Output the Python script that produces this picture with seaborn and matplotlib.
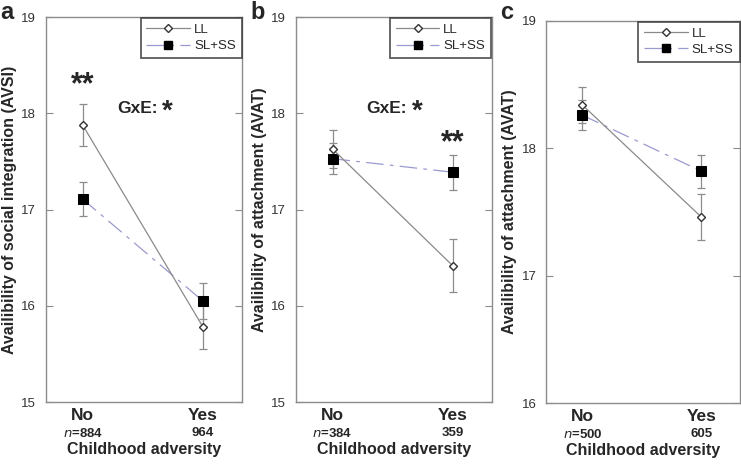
import pandas as pd
import matplotlib.pyplot as plt
import seaborn as sns
from matplotlib.lines import Line2D

# Valores
grupos = ["No", "Yes"]
genotipos = ["LL", "SL+SS"]
n_a = ["884", "964"]
n_b = ["384", "359"]
n_c = ["500", "605"]

media_a_ll = [17.88, 15.78]
media_a_ss = [17.11, 16.05]
erro_a_ll = [0.22, 0.23]
erro_a_ss = [0.18, 0.19]

media_b_ll = [17.63, 16.42]
media_b_ss = [17.53, 17.39]
erro_b_ll = [0.20, 0.28]
erro_b_ss = [0.16, 0.18]

media_c_ll = [18.34, 17.46]
media_c_ss = [18.26, 17.82]
erro_c_ll = [0.14, 0.18]
erro_c_ss = [0.12, 0.13]

sns.set_style("white")
plt.rcParams["font.family"] = ["Liberation Sans", "DejaVu Sans"]

fig = plt.figure(figsize=(7.41, 4.65), dpi=100)

paineis = [
    ("a", [0.062, 0.135, 0.265, 0.828], media_a_ll, media_a_ss, erro_a_ll, erro_a_ss, n_a,
     "Availibility of social integration (AVSI)", (15, 19)),
    ("b", [0.3995, 0.135, 0.264, 0.828], media_b_ll, media_b_ss, erro_b_ll, erro_b_ss, n_b,
     "Availibility of attachment (AVAT)", (15, 19)),
    ("c", [0.737, 0.133, 0.262, 0.822], media_c_ll, media_c_ss, erro_c_ll, erro_c_ss, n_c,
     "Availibility of attachment (AVAT)", (16, 19)),
]

cinza = "#8c8c8c"
azul = "#9a9ad0"
tracos = [14, 5, 3, 5]
eixos = []

for letra, pos, m_ll, m_ss, e_ll, e_ss, ns, ylabel, ylim in paineis:
    ax = fig.add_axes(pos)
    eixos.append(ax)
    df = pd.DataFrame({
        "x": [0, 1, 0, 1],
        "media": m_ll + m_ss,
        "erro": e_ll + e_ss,
        "genotipo": ["LL", "LL", "SL+SS", "SL+SS"],
    })

    # barras de erro
    for g in genotipos:
        sub = df[df["genotipo"] == g]
        ax.errorbar(sub["x"], sub["media"], yerr=sub["erro"], fmt="none",
                    ecolor=cinza, elinewidth=0.9, capsize=3, capthick=0.9, zorder=2)

    # linhas
    sub = df[df["genotipo"] == "LL"]
    sns.lineplot(data=sub, x="x", y="media", ax=ax, color="#8a8a8a", lw=0.9,
                 marker="D", markersize=4.5, markerfacecolor="white",
                 markeredgecolor="#333333", markeredgewidth=1.0, zorder=4)
    sub = df[df["genotipo"] == "SL+SS"]
    sns.lineplot(data=sub, x="x", y="media", ax=ax, color=azul, lw=0.9,
                 marker="s", markersize=6.5, markerfacecolor="black",
                 markeredgecolor="black", zorder=3)
    ax.lines[-1].set_dashes(tracos)

    ax.set_xlim(-0.305, 1.326)
    ax.set_ylim(*ylim)
    ax.set_yticks(range(ylim[0], ylim[1] + 1))
    ax.set_xticks([0, 1])
    ax.set_xticklabels(["", ""])
    ax.tick_params(axis="y", direction="in", length=5, width=0.8, color=cinza,
                   right=True, left=True, labelsize=9.5, labelcolor="#333333", pad=7)
    ax.tick_params(axis="x", length=0)
    for s in ax.spines.values():
        s.set_color(cinza)
        s.set_linewidth(1.0)

    ax.set_ylabel(ylabel, fontsize=11.5, fontweight="bold", labelpad=3)
    ax.set_xlabel("")
    for xi, (grp, n) in enumerate(zip(grupos, ns)):
        ax.text(xi, -0.014, grp, transform=ax.get_xaxis_transform(),
                ha="center", va="top", fontsize=12.5, fontweight="bold")
        rotulo = r"$\mathbf{\it{n}}$=" + n if xi == 0 else n
        ax.text(xi, -0.064, rotulo, transform=ax.get_xaxis_transform(),
                ha="center", va="top", fontsize=9.5, fontweight="bold")
    ax.text(0.5, -0.103, "Childhood adversity", transform=ax.transAxes,
            ha="center", va="top", fontsize=11.5, fontweight="bold")

    handles = [
        Line2D([0], [0], color="#8a8a8a", lw=0.9, marker="D", markersize=4,
               markerfacecolor="white", markeredgecolor="#333333"),
        Line2D([0], [0], color=azul, lw=0.9, dashes=tracos, marker="s",
               markersize=6, markerfacecolor="black", markeredgecolor="black"),
    ]
    leg = ax.legend(handles, genotipos, loc="upper right", fontsize=9.5,
                    frameon=True, fancybox=False, borderaxespad=0.05,
                    handlelength=3.3, handletextpad=0.3, labelspacing=0.3,
                    borderpad=0.45)
    leg.get_frame().set_edgecolor("#333333")
    leg.get_frame().set_linewidth(1.3)

    fig.text(pos[0] - 0.062, 0.998, letra, fontsize=17, fontweight="bold",
             ha="left", va="top")

# anotacoes de significancia
eixos[0].text(0, 18.29, "**", ha="center", va="center", fontsize=22, fontweight="bold")
eixos[1].text(1, 17.69, "**", ha="center", va="center", fontsize=22, fontweight="bold")
for ax in eixos[:2]:
    ax.text(0.62, 18.05, "GxE:", ha="right", va="center", fontsize=12.5, fontweight="bold")
    ax.text(0.66, 18.02, "*", ha="left", va="center", fontsize=20, fontweight="bold")

plt.savefig("out.png", dpi=100)
